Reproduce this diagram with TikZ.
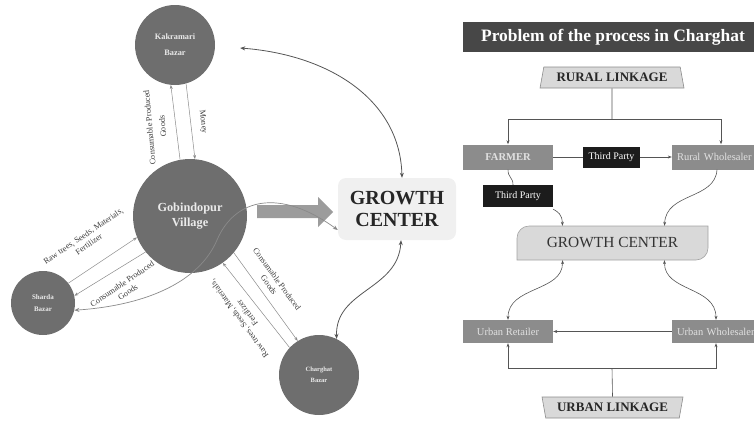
\documentclass[tikz,border=0pt]{standalone}
\usepackage{fontspec}
\setmainfont{Liberation Serif}
\usetikzlibrary{calc,arrows.meta,shapes.geometric}
\definecolor{circ}{HTML}{6E6E6E}
\definecolor{lgray}{HTML}{8A8A8A}
\definecolor{dline}{HTML}{555555}
\definecolor{lbltxt}{HTML}{3C3C3C}
\definecolor{boxgray}{HTML}{8C8C8C}
\definecolor{boxtxt}{HTML}{E2E2E2}
\definecolor{blackbox}{HTML}{1C1C1C}
\definecolor{titlebar}{HTML}{474747}
\definecolor{trapfill}{HTML}{D9D9D9}
\definecolor{trapdraw}{HTML}{8C8C8C}
\definecolor{gcfill}{HTML}{F0F0F0}
\definecolor{bigarrow}{HTML}{9C9C9C}
\begin{document}
\begin{tikzpicture}[x=1pt,y=-1pt,
  bazar/.style={circle, fill=circ, text=white!92!black, align=center, inner sep=0pt},
  flow/.style={draw=lgray, line width=0.5pt, -{Stealth[length=4pt,width=3pt]}},
  arcline/.style={draw=dline, line width=0.8pt, {Stealth[length=5pt,width=4pt]}-{Stealth[length=5pt,width=4pt]}},
  softarc/.style={draw=lgray, line width=0.7pt, {Stealth[length=5pt,width=4pt]}-{Stealth[length=5pt,width=4pt]}},
  lbl/.style={font=\fontsize{8.3}{10}\selectfont, text=lbltxt, align=center, inner sep=0pt},
  graybox/.style={rectangle, fill=boxgray, text=boxtxt, font=\fontsize{10.5}{12}\selectfont, inner sep=0pt},
  blkbox/.style={rectangle, fill=blackbox, text=white, font=\fontsize{10}{12}\selectfont, inner sep=0pt},
  trap/.style={trapezium, trapezium left angle=78, trapezium right angle=78, trapezium stretches=true,
    fill=trapfill, draw=trapdraw, line width=0.6pt, font=\bfseries\fontsize{13}{15}\selectfont, text=black!85},
  rline/.style={draw=dline, line width=0.6pt},
  rarrow/.style={draw=dline, line width=0.6pt, -{Stealth[length=4pt,width=3pt]}},
  rboth/.style={draw=dline, line width=0.6pt, {Stealth[length=4pt,width=3pt]}-{Stealth[length=4pt,width=3pt]}}
]
\useasboundingbox (0,0) rectangle (754,423);
\clip (0,0) rectangle (754,423);

% ---------------- LEFT PANEL ----------------
\node[bazar, minimum size=80pt, font=\bfseries\fontsize{8.3}{16}\selectfont] (kak) at (175,45) {Kakramari\\Bazar};
\node[bazar, minimum size=114pt, font=\bfseries\fontsize{12.3}{15}\selectfont] (gob) at (190,216) {Gobindopur\\Village};
\node[bazar, minimum size=64pt, font=\bfseries\fontsize{7}{12}\selectfont] (sha) at (43,303) {Sharda\\Bazar};
\node[bazar, minimum size=80pt, font=\bfseries\fontsize{6.5}{11}\selectfont] (cha) at (319,375) {Charghat\\Bazar};

\node[rectangle, rounded corners=8pt, fill=gcfill, minimum width=118pt, minimum height=62pt,
  font=\bfseries\fontsize{20}{22}\selectfont, text=black!85, align=center] (gcl) at (397,209) {GROWTH\\CENTER};

% block arrow
\fill[bigarrow] (257,205) -- (318,205) -- (318,197) -- (333,212) -- (318,227) -- (318,218) -- (257,218) -- cycle;

% flows
\draw[flow] (gob.100) -- (kak.-96);
\draw[flow] (kak.-74) -- (gob.85);
\draw[flow] (sha.38) -- (gob.202);
\draw[flow] (gob.219) -- (sha.13);
\draw[flow] (gob.-40) -- (cha.122);
\draw[flow] (cha.137) -- (gob.-55);

% labels
\node[lbl, rotate=95, font=\fontsize{8.3}{13}\selectfont] (lk1) at (156,127) {Consumable Produced\\Goods};
\node[lbl, rotate=-84] (lk2) at (203,122) {Money};
\node[lbl, rotate=34] (ls1) at (86,240) {Raw trees, Seeds, Materials,\\Fertilizer};
\node[lbl, rotate=34] (ls2) at (125,288) {Consumable Produced\\Goods};
\node[lbl, rotate=-54] (lc1) at (273,282) {Consumable Produced\\Goods};
\node[lbl, rotate=126] (lc2) at (243,316) {Raw trees, Seeds, Materials,\\Fertilizer};

% long arcs
\draw[arcline] ([shift={(25,3)}]kak.east) .. controls (330,55) and (400,100) .. ([xshift=5]gcl.north);
\draw[arcline] ([xshift=4]gcl.south) .. controls (398,290) and (335,290) .. (cha.64);
\draw[softarc] (sha.-13) .. controls (150,305) and (200,280) .. (217,240) .. controls (235,198) and (280,188) .. ([yshift=-21]gcl.west);

% ---------------- RIGHT PANEL ----------------
\node[rectangle, fill=titlebar, text=white, minimum width=300pt, minimum height=30pt, inner sep=0pt,
  font=\bfseries\fontsize{17.4}{20}\selectfont] (title) at (613,37) {Problem of the process in Charghat};

\node[trap, minimum width=144pt, minimum height=21pt] (rl) at (612,77.5) {RURAL LINKAGE};
\node[trap, shape border rotate=180, minimum width=141pt, minimum height=21pt] (ul) at (612.5,407.5) {URBAN LINKAGE};

\node[graybox, minimum width=90pt, minimum height=25pt, font=\bfseries\fontsize{10.5}{12}\selectfont] (farmer) at (508,157) {FARMER};
\node[blkbox, minimum width=57pt, minimum height=21pt] (tp1) at (611.5,157) {Third Party};
\node[graybox, minimum height=25pt, text width=92pt, align=left, inner xsep=5pt] (rw) at (723,157) {Rural Wholesaler};
\node[blkbox, minimum width=70pt, minimum height=22pt] (tp2) at (518,196) {Third Party};

\filldraw[fill=trapfill, draw=trapdraw!80, line width=0.6pt]
  (517,260) [rounded corners=12pt] -- (517,226) [sharp corners] -- (708,226)
  [rounded corners=12pt] -- (708,260) [sharp corners] -- cycle;
\node[rectangle, minimum width=191pt, minimum height=34pt, inner sep=0pt,
  font=\fontsize{15.4}{17}\selectfont, text=black!80] (gcr) at (612.5,243) {GROWTH CENTER};

\node[graybox, minimum width=90pt, minimum height=23pt] (ur) at (508,331.5) {Urban Retailer};
\node[graybox, minimum height=23pt, text width=92pt, align=left, inner xsep=5pt] (uw) at (723,331.5) {Urban Wholesaler};

% rural linkage tree
\coordinate (rj) at (612,119);
\draw[rline] (rl.south) -- (rj);
\draw[rarrow] (rj) -| (farmer.north);
\draw[rarrow] (rj) -| ([xshift=-2]rw.north);

% urban linkage tree
\coordinate (uj) at (612,368);
\draw[rline] (ul.north) -- (uj);
\draw[rarrow] (uj) -| (ur.south);
\draw[rarrow] (uj) -| ([xshift=-7]uw.south);

% horizontal flows
\draw[rline] (farmer.east) -- (tp1.west);
\draw[rarrow] (tp1.east) -- (rw.west);
\draw[rarrow] (uw.west) -- (ur.east);

% curves
\draw[rline] (farmer.south) .. controls (508,178) and (513,177) .. ([xshift=-5]tp2.north);
\draw[rarrow] ([yshift=-2]tp2.south east) .. controls (558,212) and (562,214) .. ([xshift=-50]gcr.north);
\draw[rarrow] ([xshift=-6]rw.south) .. controls (715,200) and (666,192) .. ([xshift=52]gcr.north);
\draw[rboth] ([xshift=-50]gcr.south) .. controls (563,292) and (508,286) .. (ur.north);
\draw[rboth] ([xshift=52]gcr.south) .. controls (664,292) and (716,286) .. ([xshift=-7]uw.north);
\end{tikzpicture}
\end{document}
